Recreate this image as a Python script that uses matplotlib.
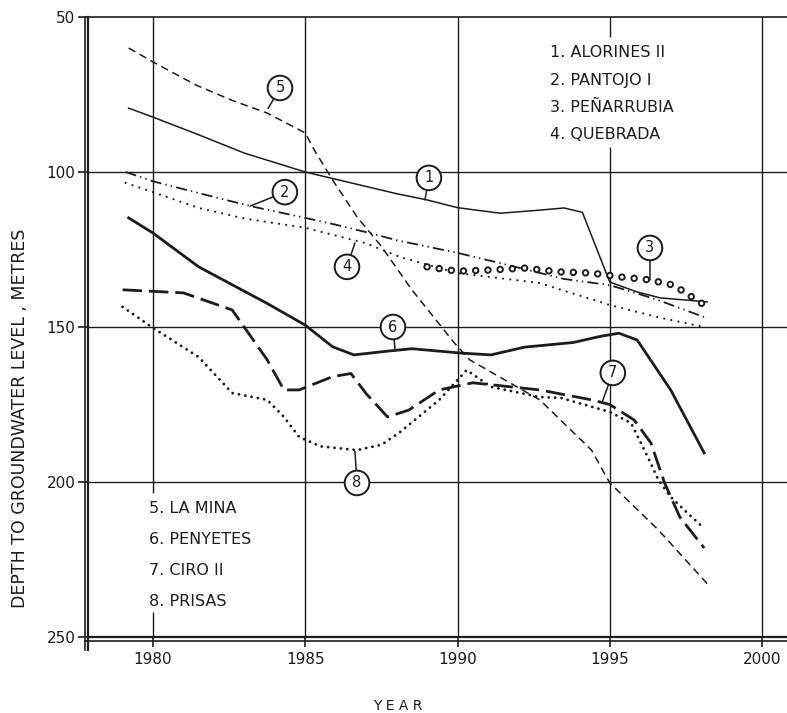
import matplotlib
matplotlib.use("Agg")
import matplotlib.pyplot as plt
from matplotlib.lines import Line2D

plt.rcParams["font.family"] = "DejaVu Sans"
plt.rcParams["lines.scale_dashes"] = False

INK = "#1c1c1c"
W, H = 787, 713

# 1. ALORINES II
years1 = [1979.2, 1980, 1981.5, 1983, 1985, 1986.5, 1988, 1989, 1990, 1991.4, 1992.7, 1993.5,
          1994.1, 1994.3, 1994.5, 1994.7, 1995, 1995.9, 1996.65, 1998.2]
depth1 = [79.4, 82.3, 88, 93.9, 100, 103.5, 107, 109, 111.5, 113.3, 112.3, 111.6,
          113, 118, 123, 128, 135.5, 138.7, 140.6, 141.9]
# 2. PANTOJO I
years2 = [1979.1, 1980, 1981.5, 1983.2, 1985, 1986, 1987, 1988, 1990, 1991.4, 1993.5, 1995, 1996.5, 1998.1]
depth2 = [100, 103, 106.8, 111, 114.8, 117, 119.4, 122, 126.1, 129.4, 134.5, 136.5, 141, 146.8]
# 3. PENARRUBIA
years3 = [1989, 1990, 1991.1, 1992.2, 1993.3, 1994.4, 1995.4, 1996.3, 1997.1, 1997.6, 1998.1]
depth3 = [130.6, 132, 131.6, 131, 132.2, 132.6, 133.9, 134.8, 136.5, 139.7, 142.9]
# 4. QUEBRADA
years4 = [1979.1, 1980, 1981.5, 1983, 1985, 1987, 1988.1, 1990, 1992.7, 1993.4, 1995, 1996.65, 1998.1]
depth4 = [103.5, 106.5, 111.6, 115, 118, 123, 127.4, 132.6, 135.8, 138, 142.9, 147, 150]
# 5. LA MINA
years5 = [1979.2, 1980, 1981.4, 1982.6, 1983.75, 1985, 1985.3, 1985.9, 1986.7, 1987.5, 1988.5,
          1989.9, 1990.4, 1992.7, 1994.4, 1995, 1996.6, 1998.3]
depth5 = [60, 64.5, 71.9, 76.9, 81, 87.4, 93, 102.6, 114.5, 124, 138,
          155.2, 160.6, 173.5, 189.7, 200.3, 215.5, 233.9]
# 6. PENYETES
years6 = [1979.2, 1980, 1981.5, 1983.75, 1985, 1985.9, 1986.6, 1987.5, 1988.5, 1990.1, 1991.1,
          1992.2, 1993.8, 1994.7, 1995.3, 1995.9, 1997, 1998.1]
depth6 = [114.8, 119.7, 130.6, 142.4, 149.4, 156.4, 159, 158, 157, 158.4, 159,
          156.5, 155, 153, 152, 154.2, 170.3, 190.6]
# 7. CIRO II
years7 = [1979, 1981, 1982.6, 1983.75, 1984.3, 1984.8, 1985.9, 1986.5, 1987, 1987.7, 1988.4,
          1989.4, 1990.5, 1992.7, 1994.4, 1995, 1995.8, 1996.35, 1996.8, 1997.3, 1998.1]
depth7 = [138, 139, 144.5, 160.6, 170.3, 170.3, 166, 165, 171.5, 179, 176.8,
          170.3, 168, 170.3, 173.5, 175, 180, 187.4, 200.3, 211.3, 221.3]
# 8. PRISAS
years8 = [1979, 1980, 1981.5, 1982.6, 1983.75, 1984.3, 1984.8, 1985.5, 1986.7, 1987.5, 1988.1,
          1989.4, 1990.3, 1991.1, 1992.7, 1993.4, 1995, 1995.7, 1996.25, 1996.6, 1997, 1997.55, 1998.05]
depth8 = [143.5, 150.3, 159.7, 171.3, 173.5, 179, 185.5, 188.5, 189.7, 188, 184,
          173.5, 163.9, 169.3, 172.6, 172.9, 177.4, 181, 192, 199.4, 204.8, 210, 214.5]

legend_top = ["1. ALORINES II", "2. PANTOJO I", "3. PEÑARRUBIA", "4. QUEBRADA"]
legend_bottom = ["5. LA MINA", "6. PENYETES", "7. CIRO II", "8. PRISAS"]
x_ticks = [1980, 1985, 1990, 1995, 2000]
y_ticks = [50, 100, 150, 200, 250]

fig = plt.figure(figsize=(W / 100, H / 100), dpi=100)
ax = fig.add_axes([88 / W, 1 - 637 / H, (W - 88) / W, (637 - 17) / H])
ax.set_xlim(1977.865, 2000.82)
ax.set_ylim(250, 50)

for side in ["left", "bottom"]:
    ax.spines[side].set_linewidth(1.6)
    ax.spines[side].set_color(INK)
ax.spines["top"].set_linewidth(1.2)
ax.spines["top"].set_color(INK)
ax.spines["right"].set_visible(False)

ax.set_xticks(x_ticks)
ax.set_yticks(y_ticks)
ax.tick_params(direction="out", length=7, width=1.2, color=INK, labelcolor=INK, labelsize=11)
ax.tick_params(axis="x", pad=4)
ax.tick_params(axis="y", pad=2)

# grid, with gaps where the text blocks sit
for y in [100, 150, 200]:
    ax.axhline(y, color=INK, lw=1.0, zorder=1)
ax.vlines(1980, 50, 203.5, color=INK, lw=1.0, zorder=1)
ax.vlines(1980, 242, 250, color=INK, lw=1.0, zorder=1)
ax.vlines(1985, 50, 250, color=INK, lw=1.0, zorder=1)
ax.vlines(1990, 50, 250, color=INK, lw=1.0, zorder=1)
ax.vlines(1995, 50, 56.5, color=INK, lw=1.0, zorder=1)
ax.vlines(1995, 92, 250, color=INK, lw=1.0, zorder=1)
ax.vlines(2000, 50, 250, color=INK, lw=1.0, zorder=1)

# curves
ax.plot(years1, depth1, color=INK, lw=1.1, zorder=3)
ax.plot(years2, depth2, color=INK, lw=1.3, ls=(0, (8, 3, 1, 3, 1, 3)), zorder=3)
# open circles: a round-capped dot pattern, hollowed by the same pattern in white
ax.plot(years3, depth3, color=INK, lw=5.4, ls=(0, (0.01, 8.8)), dash_capstyle="round", zorder=3)
ax.plot(years3, depth3, color="white", lw=2.6, ls=(0, (0.01, 8.8)), dash_capstyle="round", zorder=3.1)
ax.plot(years4, depth4, color=INK, lw=1.6, ls=(0, (0.01, 5.2)), dash_capstyle="round", zorder=3)
ax.plot(years5, depth5, color=INK, lw=1.1, ls=(0, (5.5, 3.5)), zorder=3)
ax.plot(years6, depth6, color=INK, lw=2.0, zorder=3)
ax.plot(years7, depth7, color=INK, lw=2.0, ls=(0, (14, 5)), zorder=3)
ax.plot(years8, depth8, color=INK, lw=2.1, ls=(0, (0.01, 4.6)), dash_capstyle="round", zorder=3)


def circled(num, text_xy, target_xy):
    ax.annotate(num, xy=target_xy, xytext=text_xy, ha="center", va="center",
                fontsize=10.5, color=INK, zorder=6,
                bbox=dict(boxstyle="circle,pad=0.33", fc="white", ec=INK, lw=1.4),
                arrowprops=dict(arrowstyle="-", color=INK, lw=1.1, shrinkA=0, shrinkB=0))


circled("1", (1989.06, 101.9), (1988.93, 109.0))
circled("2", (1984.33, 106.5), (1983.19, 111.0))
circled("3", (1996.32, 124.5), (1996.32, 134.8))
circled("4", (1986.37, 130.6), (1986.63, 122.9))
circled("5", (1984.17, 72.9), (1983.78, 79.5))
circled("6", (1987.88, 150.0), (1987.95, 157.5))
circled("7", (1995.1, 164.8), (1994.75, 174.2))
circled("8", (1986.7, 200.3), (1986.63, 190.0))

for i, label in enumerate(legend_top):
    ax.text(1993.04, 61.6 + i * 8.8, label, fontsize=11.5, color=INK, va="center", ha="left", zorder=5)
for i, label in enumerate(legend_bottom):
    ax.text(1979.87, 208.4 + i * 10.1, label, fontsize=11.5, color=INK, va="center", ha="left", zorder=5)

# doubled frame lines on left and bottom
fig.add_artist(Line2D([85 / W, 85 / W], [1 - 17 / H, 1 - 650 / H], color=INK, lw=1.2))
fig.add_artist(Line2D([88 / W, 88 / W], [1 - 637 / H, 1 - 650 / H], color=INK, lw=1.6))
fig.add_artist(Line2D([85 / W, 1.0], [1 - 641 / H, 1 - 641 / H], color=INK, lw=1.2))

fig.text(20 / W, 1 - 418 / H, "DEPTH TO GROUNDWATER LEVEL , METRES", rotation=90,
         ha="center", va="center", fontsize=12.5, color=INK)
fig.text(398 / W, 1 - 706 / H, "Y E A R", ha="center", va="center", fontsize=10, color=INK)

fig.savefig("out.png", dpi=100, facecolor="white")
